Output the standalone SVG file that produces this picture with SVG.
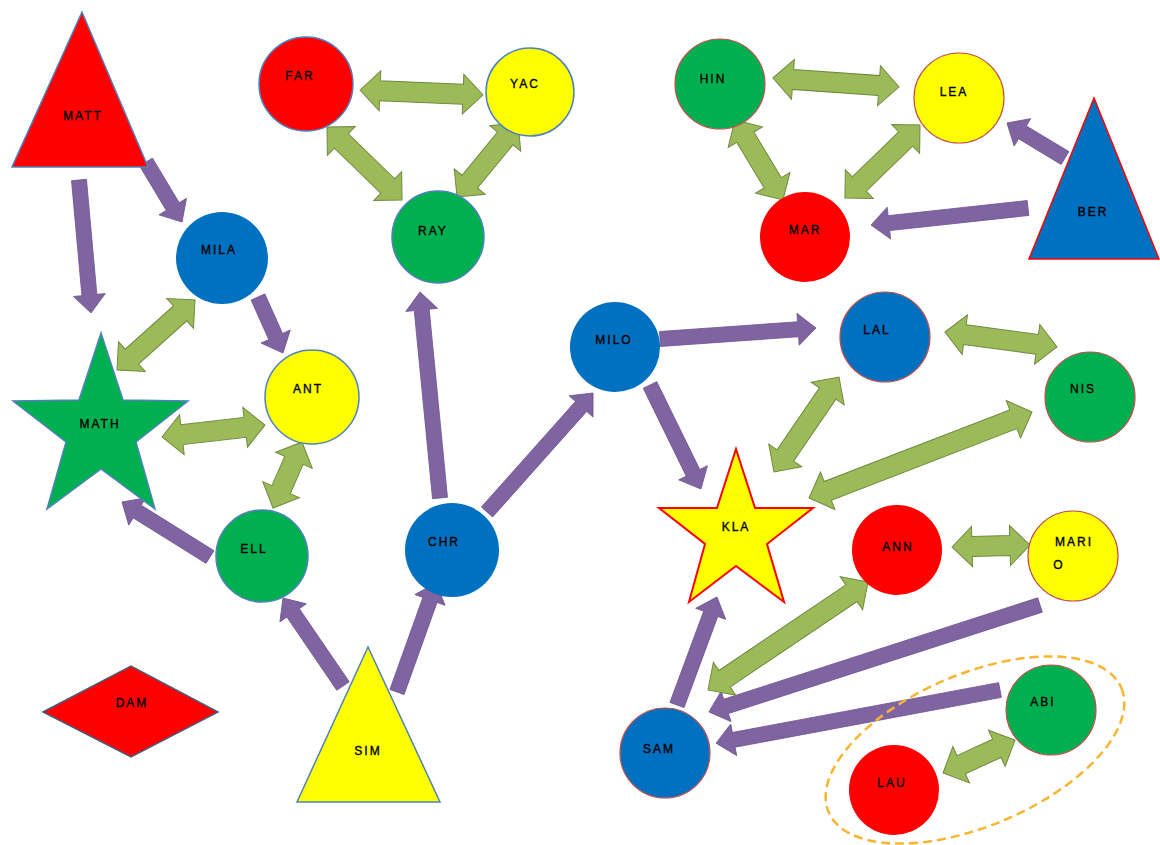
<svg xmlns="http://www.w3.org/2000/svg" width="1160" height="845" viewBox="0 0 1160 845">
<style>
text{font-family:"Liberation Sans",Arial,sans-serif;font-size:12px;fill:#000;stroke:#000;stroke-width:0.35;text-anchor:middle;dominant-baseline:middle;letter-spacing:2px}
.pa{fill:#8064a2;stroke:#6f5592;stroke-width:0.8}
.ga{fill:#9bbb59;stroke:#71893f;stroke-width:1}
.red{fill:#ff0000}.yel{fill:#ffff00}.grn{fill:#00b050}.blu{fill:#0070c0}
.sb{stroke:#4f81bd;stroke-width:1.5}
.sr{stroke:#c0504d;stroke-width:1.2}
</style>
<rect width="1160" height="845" fill="#fff"/>
<g id="connectors">
<g transform="translate(146,162) rotate(59.04)"><polygon class="pa" points="0,-7.5 52,-7.5 52,-16 70,0 52,16 52,7.5 0,7.5"/></g>
<g transform="translate(79,180) rotate(84.84)"><polygon class="pa" points="0,-7.5 115.5,-7.5 115.5,-16 133.5,0 115.5,16 115.5,7.5 0,7.5"/></g>
<g transform="translate(258,297) rotate(65.94)"><polygon class="pa" points="0,-7.5 43.3,-7.5 43.3,-16 61.3,0 43.3,16 43.3,7.5 0,7.5"/></g>
<g transform="translate(210,557) rotate(-148)"><polygon class="pa" points="0,-7.5 85.8,-7.5 85.8,-16 103.8,0 85.8,16 85.8,7.5 0,7.5"/></g>
<g transform="translate(343,686) rotate(-124.3)"><polygon class="pa" points="0,-7.5 88.5,-7.5 88.5,-16 106.5,0 88.5,16 88.5,7.5 0,7.5"/></g>
<g transform="translate(397,692) rotate(-70.3)"><polygon class="pa" points="0,-7.5 97.8,-7.5 97.8,-16 115.8,0 97.8,16 97.8,7.5 0,7.5"/></g>
<g transform="translate(440,498) rotate(-95.55)"><polygon class="pa" points="0,-7.5 189,-7.5 189,-16 207,0 189,16 189,7.5 0,7.5"/></g>
<g transform="translate(487,512) rotate(-48.3)"><polygon class="pa" points="0,-7.5 141.4,-7.5 141.4,-16 159.4,0 141.4,16 141.4,7.5 0,7.5"/></g>
<g transform="translate(660,339) rotate(-4.03)"><polygon class="pa" points="0,-7.5 138.4,-7.5 138.4,-16 156.4,0 138.4,16 138.4,7.5 0,7.5"/></g>
<g transform="translate(650,385) rotate(63.9)"><polygon class="pa" points="0,-7.5 97.8,-7.5 97.8,-16 115.8,0 97.8,16 97.8,7.5 0,7.5"/></g>
<g transform="translate(1065,158) rotate(-148.9)"><polygon class="pa" points="0,-7.5 49.7,-7.5 49.7,-16 67.7,0 49.7,16 49.7,7.5 0,7.5"/></g>
<g transform="translate(1028,208) rotate(173.8)"><polygon class="pa" points="0,-7.5 139.9,-7.5 139.9,-16 157.9,0 139.9,16 139.9,7.5 0,7.5"/></g>
<g transform="translate(677,705) rotate(-69.7)"><polygon class="pa" points="0,-7.5 97.2,-7.5 97.2,-16 115.2,0 97.2,16 97.2,7.5 0,7.5"/></g>
<g transform="translate(1040,605) rotate(162.1)"><polygon class="pa" points="0,-7.5 329.9,-7.5 329.9,-16 347.9,0 329.9,16 329.9,7.5 0,7.5"/></g>
<g transform="translate(1000,690) rotate(169.4)"><polygon class="pa" points="0,-7.5 270.9,-7.5 270.9,-16 288.9,0 270.9,16 270.9,7.5 0,7.5"/></g>
<g transform="translate(360,90) rotate(2.33)"><polygon class="ga" points="0,0 20,-20 20,-10 103.1,-10 103.1,-20 123.1,0 103.1,20 103.1,10 20,10 20,20"/></g>
<g transform="translate(327,127) rotate(44.2)"><polygon class="ga" points="0,0 20,-20 20,-10 84.7,-10 84.7,-20 104.7,0 84.7,20 84.7,10 20,10 20,20"/></g>
<g transform="translate(518,123) rotate(129.5)"><polygon class="ga" points="0,0 20,-20 20,-10 75.9,-10 75.9,-20 95.9,0 75.9,20 75.9,10 20,10 20,20"/></g>
<g transform="translate(773,78) rotate(4.09)"><polygon class="ga" points="0,0 20,-20 20,-10 106.3,-10 106.3,-20 126.3,0 106.3,20 106.3,10 20,10 20,20"/></g>
<g transform="translate(735,120) rotate(59)"><polygon class="ga" points="0,0 20,-20 20,-10 73.3,-10 73.3,-20 93.3,0 73.3,20 73.3,10 20,10 20,20"/></g>
<g transform="translate(920,125) rotate(135.8)"><polygon class="ga" points="0,0 20,-20 20,-10 84.7,-10 84.7,-20 104.7,0 84.7,20 84.7,10 20,10 20,20"/></g>
<g transform="translate(195,300) rotate(138.1)"><polygon class="ga" points="0,0 20,-20 20,-10 84.8,-10 84.8,-20 104.8,0 84.8,20 84.8,10 20,10 20,20"/></g>
<g transform="translate(162,437) rotate(-6.65)"><polygon class="ga" points="0,0 20,-20 20,-10 83.7,-10 83.7,-20 103.7,0 83.7,20 83.7,10 20,10 20,20"/></g>
<g transform="translate(302,442) rotate(113.7)"><polygon class="ga" points="0,0 20,-20 20,-10 52.1,-10 52.1,-20 72.1,0 52.1,20 52.1,10 20,10 20,20"/></g>
<g transform="translate(945,332) rotate(7.63)"><polygon class="ga" points="0,0 20,-20 20,-10 93,-10 93,-20 113,0 93,20 93,10 20,10 20,20"/></g>
<g transform="translate(839,377) rotate(124.4)"><polygon class="ga" points="0,0 20,-20 20,-10 95.1,-10 95.1,-20 115.1,0 95.1,20 95.1,10 20,10 20,20"/></g>
<g transform="translate(1032,412) rotate(158.9)"><polygon class="ga" points="0,0 20,-20 20,-10 219,-10 219,-20 239,0 219,20 219,10 20,10 20,20"/></g>
<g transform="translate(952,547) rotate(-1.47)"><polygon class="ga" points="0,0 20,-20 20,-10 58,-10 58,-20 78,0 58,20 58,10 20,10 20,20"/></g>
<g transform="translate(868,582) rotate(146)"><polygon class="ga" points="0,0 20,-20 20,-10 173,-10 173,-20 193,0 173,20 173,10 20,10 20,20"/></g>
<g transform="translate(943,773) rotate(-24.6)"><polygon class="ga" points="0,0 20,-20 20,-10 59.2,-10 59.2,-20 79.2,0 59.2,20 59.2,10 20,10 20,20"/></g>
</g>
<g id="group-outline"><ellipse cx="975" cy="750" rx="159" ry="76" transform="rotate(-23 975 750)" fill="none" stroke="#f7b531" stroke-width="2.5" stroke-dasharray="9 5"/></g>
<g id="MATT"><polygon class="red sb" points="82,12 12,167 148,167"/><text x="83" y="117">MATT</text></g>
<g id="FAR"><circle class="red sb" cx="306" cy="84" r="47"/><text x="300" y="77">FAR</text></g>
<g id="YAC"><circle class="yel sb" cx="530" cy="92" r="44"/><text x="525" y="85">YAC</text></g>
<g id="RAY"><circle class="grn sb" cx="438" cy="237" r="46"/><text x="433" y="232">RAY</text></g>
<g id="MILA"><circle class="blu" cx="222" cy="258" r="46"/><text x="219" y="251">MILA</text></g>
<g id="HIN"><circle class="grn sr" cx="720" cy="84" r="45"/><text x="713" y="80">HIN</text></g>
<g id="LEA"><circle class="yel sr" cx="959" cy="98" r="45"/><text x="954" y="93">LEA</text></g>
<g id="MAR"><circle class="red" cx="805" cy="237" r="45"/><text x="805" y="231">MAR</text></g>
<g id="BER"><polygon class="blu" stroke="#ff0000" stroke-width="1.5" points="1094,98 1029,259 1159,259"/><text x="1093" y="213">BER</text></g>
<g id="MATH"><polygon class="grn sb" points="101,333 123,400 188,401 136,442 155,509 101,469 47,509 66,442 13,401 79,400"/><text x="100" y="425">MATH</text></g>
<g id="ANT"><circle class="yel sb" cx="312" cy="397" r="47"/><text x="308" y="390">ANT</text></g>
<g id="ELL"><circle class="grn sb" cx="262" cy="556" r="46"/><text x="254" y="550">ELL</text></g>
<g id="CHR"><circle class="blu" cx="452" cy="550" r="47"/><text x="444" y="543">CHR</text></g>
<g id="MILO"><circle class="blu" cx="615" cy="347" r="45"/><text x="614" y="341">MILO</text></g>
<g id="KLA"><polygon class="yel" stroke="#ff0000" stroke-width="2" points="736,449 755,508 813,508 767,544 784,602 736,566 689,602 705,544 659,508 717,508"/><text x="736" y="528">KLA</text></g>
<g id="LAL"><circle class="blu sr" cx="885" cy="337" r="45"/><text x="877" y="331">LAL</text></g>
<g id="NIS"><circle class="grn sr" cx="1090" cy="397" r="45"/><text x="1083" y="390">NIS</text></g>
<g id="ANN"><circle class="red" cx="897" cy="550" r="45"/><text x="898" y="548">ANN</text></g>
<g id="MARIO"><circle class="yel sr" cx="1073" cy="556" r="45"/><text x="1074" y="543">MARI</text><text x="1059" y="566">O</text></g>
<g id="DAM"><polygon class="red" stroke="#4a5a78" stroke-width="1.5" points="43,712 131,666 218,712 131,757"/><text x="132" y="704">DAM</text></g>
<g id="SIM"><polygon class="yel sb" points="368,647 297,802 440,802"/><text x="368" y="752">SIM</text></g>
<g id="SAM"><circle class="blu sr" cx="665" cy="753" r="45"/><text x="659" y="750">SAM</text></g>
<g id="ABI"><circle class="grn sr" cx="1051" cy="710" r="45"/><text x="1043" y="703">ABI</text></g>
<g id="LAU"><circle class="red" cx="894" cy="790" r="45"/><text x="892" y="784">LAU</text></g>
</svg>
